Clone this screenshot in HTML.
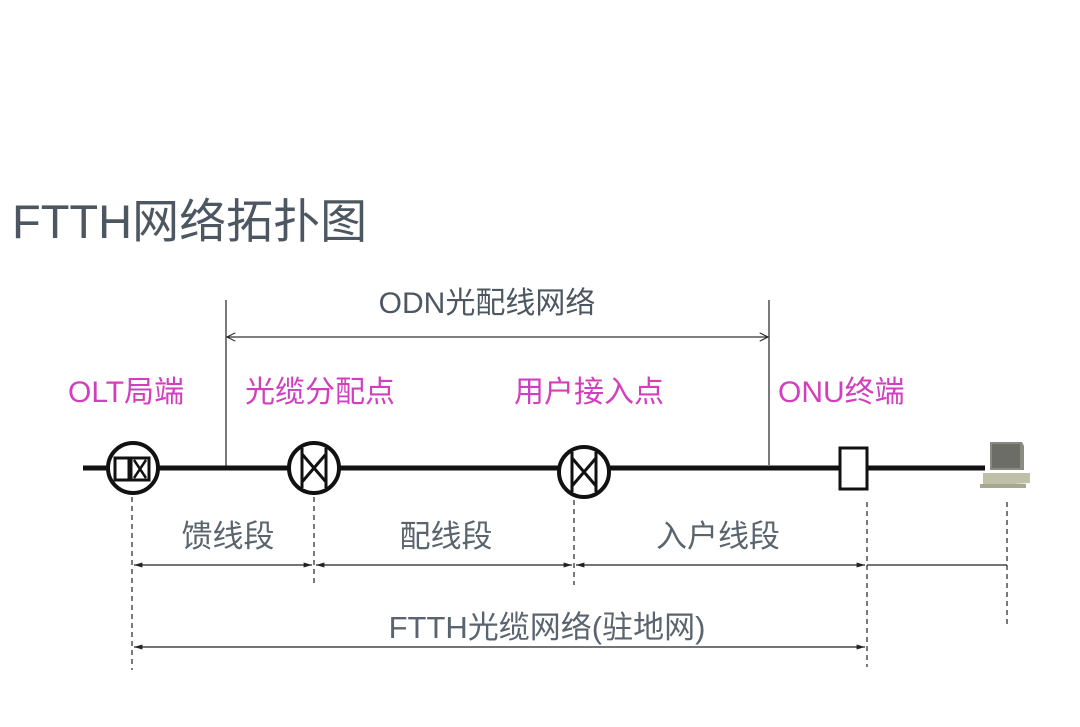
<!DOCTYPE html>
<html><head><meta charset="utf-8"><style>
html,body{margin:0;padding:0;background:#fff;width:1080px;height:727px;overflow:hidden}
text{font-family:"Liberation Sans","Noto Sans CJK SC",sans-serif}
</style></head><body>
<svg width="1080" height="727" viewBox="0 0 1080 727" xmlns="http://www.w3.org/2000/svg">
<defs>
<marker id="a" viewBox="0 0 10 10" refX="10" refY="5" markerWidth="7" markerHeight="7" orient="auto-start-reverse"><path d="M0,2 L10,5 L0,8 z" fill="#222"/></marker>
<marker id="o" viewBox="0 0 10 10" refX="9" refY="5" markerWidth="8" markerHeight="8" orient="auto-start-reverse"><path d="M1,1 L9,5 L1,9" fill="none" stroke="#222" stroke-width="1"/></marker>
</defs>
<text x="12" y="238" font-size="47" fill="#4d5761">FTTH网络拓扑图</text>
<text x="487" y="313" font-size="30" fill="#4d5761" text-anchor="middle">ODN光配线网络</text>
<line x1="226" y1="300" x2="226" y2="467" stroke="#333" stroke-width="1.3"/>
<line x1="769" y1="300" x2="769" y2="465" stroke="#333" stroke-width="1.3"/>
<line x1="227" y1="337" x2="768" y2="337" stroke="#333" stroke-width="1.3" marker-start="url(#o)" marker-end="url(#o)"/>
<g font-size="30" fill="#d23fbe">
<text x="68" y="402">OLT局端</text>
<text x="245" y="402">光缆分配点</text>
<text x="514" y="402">用户接入点</text>
<text x="778" y="402">ONU终端</text>
</g>
<line x1="83" y1="468" x2="985" y2="468" stroke="#111" stroke-width="5"/>
<circle cx="133" cy="468" r="25" fill="#fff" stroke="#111" stroke-width="4"/>
<rect x="115" y="458" width="14" height="22" fill="none" stroke="#111" stroke-width="3"/>
<rect x="131" y="458" width="18" height="22" fill="none" stroke="#111" stroke-width="3"/>
<path d="M134,460 L146,478 M146,460 L134,478" stroke="#111" stroke-width="2.5"/>
<circle cx="314" cy="468" r="25" fill="#fff" stroke="#111" stroke-width="4"/>
<path d="M302,448 V488 M326,448 V488 M302,454 L326,482 M326,454 L302,482" stroke="#111" stroke-width="3" fill="none"/>
<circle cx="584" cy="472" r="25" fill="#fff" stroke="#111" stroke-width="4"/>
<path d="M572,452 V492 M596,452 V492 M572,458 L596,486 M596,458 L572,486" stroke="#111" stroke-width="3" fill="none"/>
<rect x="840" y="448" width="27" height="41" fill="#fff" stroke="#111" stroke-width="3"/>
<path d="M990,442 L1022,442 L1024,446 L1024,470 L990,470 Z" fill="#8a8a80"/>
<rect x="992" y="444" width="28" height="24" fill="#6d6d68"/>
<path d="M983,473 L1030,473 L1030,483 L983,486 Z" fill="#c0c0a8"/>
<rect x="980" y="484" width="46" height="4" fill="#a8a890"/>
<g stroke="#333" stroke-width="1.3" stroke-dasharray="5,4">
<line x1="132" y1="497" x2="132" y2="670"/>
<line x1="314" y1="497" x2="314" y2="585"/>
<line x1="574" y1="500" x2="574" y2="585"/>
<line x1="867" y1="502" x2="867" y2="667"/>
<line x1="1007" y1="502" x2="1007" y2="625"/>
</g>
<g font-size="31" fill="#5a646e" text-anchor="middle">
<text x="228" y="547">馈线段</text>
<text x="446" y="547">配线段</text>
<text x="718" y="547">入户线段</text>
<text x="547" y="638">FTTH光缆网络(驻地网)</text>
</g>
<g stroke="#222" stroke-width="1.2">
<line x1="134" y1="565" x2="312" y2="565" marker-start="url(#a)" marker-end="url(#a)"/>
<line x1="316" y1="565" x2="572" y2="565" marker-start="url(#a)" marker-end="url(#a)"/>
<line x1="576" y1="565" x2="865" y2="565" marker-start="url(#a)" marker-end="url(#a)"/>
<line x1="867" y1="565" x2="1007" y2="565"/>
<line x1="134" y1="647" x2="865" y2="647" marker-start="url(#a)" marker-end="url(#a)"/>
</g>
</svg>
</body></html>
